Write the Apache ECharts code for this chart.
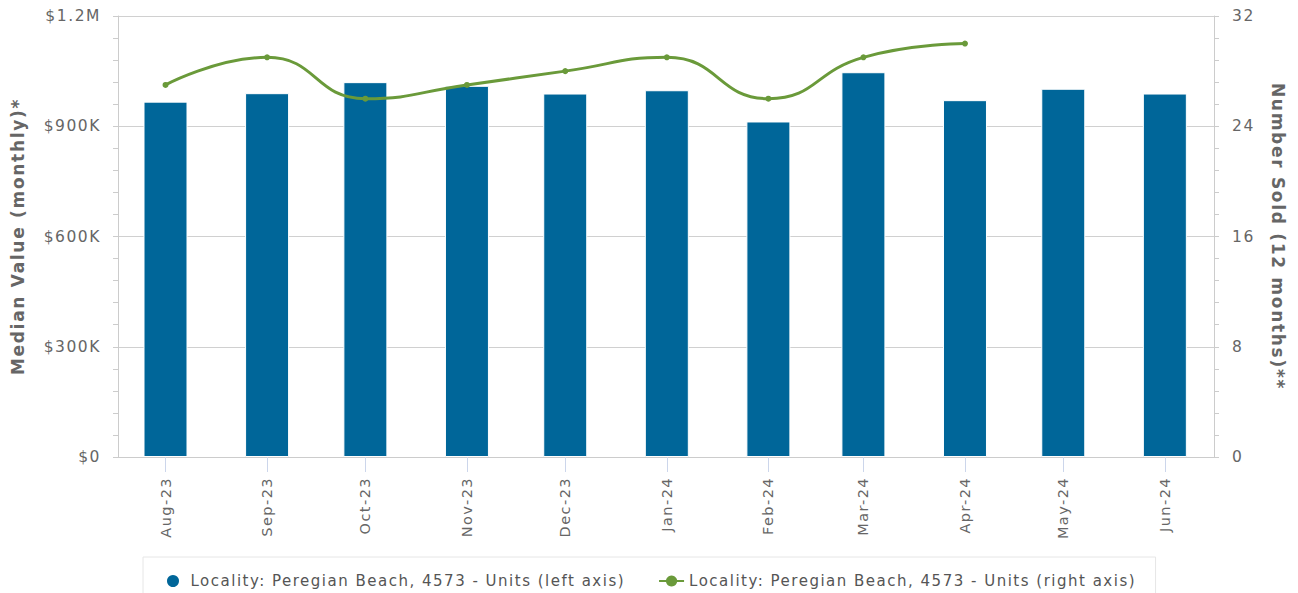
<!DOCTYPE html>
<html>
<head>
<meta charset="utf-8">
<script src="https://cdn.jsdelivr.net/npm/echarts@6/dist/echarts.min.js"></script>
<style>
html,body{margin:0;padding:0;background:#fff;}
#c{width:1298px;height:593px;}
#c svg text{letter-spacing:0.1em;}
</style>
</head>
<body>
<div id="c"></div>
<script>
// ---- data ----
const dates = ['2023-08-01','2023-09-01','2023-10-01','2023-11-01','2023-12-01','2024-01-01','2024-02-01','2024-03-01','2024-04-01','2024-05-01','2024-06-01'];
const monthLabels = ['Aug-23','Sep-23','Oct-23','Nov-23','Dec-23','Jan-24','Feb-24','Mar-24','Apr-24','May-24','Jun-24'];
const medianValue = [967000, 990000, 1020000, 1010000, 989000, 998000, 913000, 1047000, 971000, 1002000, 989000];
const numberSold = [27, 29, 26, 27, 28, 29, 26, 29, 30];
const leftTickLabels = ['$0','$300K','$600K','$900K','$1.2M'];
const rightTickLabels = ['0','8','16','24','32'];
const seriesNames = ['Locality: Peregian Beach, 4573 - Units (left axis)','Locality: Peregian Beach, 4573 - Units (right axis)'];

function ts(s){ const p = s.split('-').map(Number); return Date.UTC(p[0], p[1]-1, p[2]); }
const dateTs = dates.map(ts);
const DAY = 86400000;
const xMin = dateTs[0] - 14.5*DAY;
const xMax = dateTs[dateTs.length-1] + 15*DAY;

const chart = echarts.init(document.getElementById('c'), null, { renderer: 'svg' });
const font = 'DejaVu Sans';
chart.setOption({
  animation: false,
  textStyle: { fontFamily: font },
  grid: { left: 118, right: 84, top: 16, bottom: 136, containLabel: false, outerBoundsMode: 'none' },
  legend: {
    top: 557, left: 143,
    padding: [16, 96, 20, 22],
    borderColor: '#e6e6e6', borderWidth: 1,
    itemGap: 108, itemWidth: 25, itemHeight: 14,
    textStyle: { fontFamily: font, fontSize: 15, color: '#555' },
    data: [{ name: seriesNames[0], icon: 'circle' }, { name: seriesNames[1] }]
  },
  xAxis: {
    type: 'value', min: xMin, max: xMax,
    axisLine: { show: true, onZero: false, lineStyle: { color: '#ccc' } },
    axisTick: { show: true, length: 15, lineStyle: { color: '#ccd6eb' }, customValues: dateTs },
    axisLabel: {
      rotate: 90, margin: 20, fontSize: 14.5, color: '#666', fontFamily: font,
      customValues: dateTs,
      formatter: function (v) { const i = dateTs.indexOf(v); return i >= 0 ? monthLabels[i] : ''; }
    },
    splitLine: { show: false }
  },
  yAxis: [
    {
      type: 'value', min: 0, max: 1200000, interval: 300000, position: 'left',
      name: 'Median Value (monthly)*', nameLocation: 'middle', nameGap: 92,
      nameTextStyle: { fontSize: 17, fontWeight: 'bold', color: '#666', fontFamily: font },
      axisLine: { show: true, lineStyle: { color: '#ccc' } },
      axisTick: { show: true, length: 5, lineStyle: { color: '#ccc' } },
      minorTick: { show: true, splitNumber: 5, length: 5, lineStyle: { color: '#ccc' } },
      axisLabel: { fontSize: 15.5, color: '#666', margin: 17, fontFamily: font,
        formatter: function (v) { return leftTickLabels[Math.round(v/300000)]; } },
      splitLine: { show: true, lineStyle: { color: '#d0d0d0' } }
    },
    {
      type: 'value', min: 0, max: 32, interval: 8, position: 'right',
      name: 'Number Sold (12 months)**', nameLocation: 'middle', nameGap: 55, nameRotate: -90,
      nameTextStyle: { fontSize: 17, fontWeight: 'bold', color: '#666', fontFamily: font },
      axisLine: { show: true, lineStyle: { color: '#ccc' } },
      axisTick: { show: true, length: 5, lineStyle: { color: '#ccc' } },
      minorTick: { show: true, splitNumber: 5, length: 5, lineStyle: { color: '#ccc' } },
      axisLabel: { fontSize: 15.5, color: '#666', margin: 18, fontFamily: font,
        formatter: function (v) { return rightTickLabels[Math.round(v/8)]; } },
      splitLine: { show: false }
    }
  ],
  series: [
    {
      name: seriesNames[0], type: 'bar', yAxisIndex: 0, barWidth: 44,
      itemStyle: { color: '#006699', borderColor: '#ffffff', borderWidth: 1 },
      data: dateTs.map((t, i) => [t, medianValue[i]])
    },
    {
      name: seriesNames[1], type: 'line', yAxisIndex: 1, smooth: true,
      symbol: 'circle', symbolSize: 6, showSymbol: true,
      lineStyle: { color: '#6a9a3a', width: 3 },
      itemStyle: { color: '#6a9a3a' },
      data: numberSold.map((v, i) => [dateTs[i], v])
    }
  ]
});
</script>
</body>
</html>
